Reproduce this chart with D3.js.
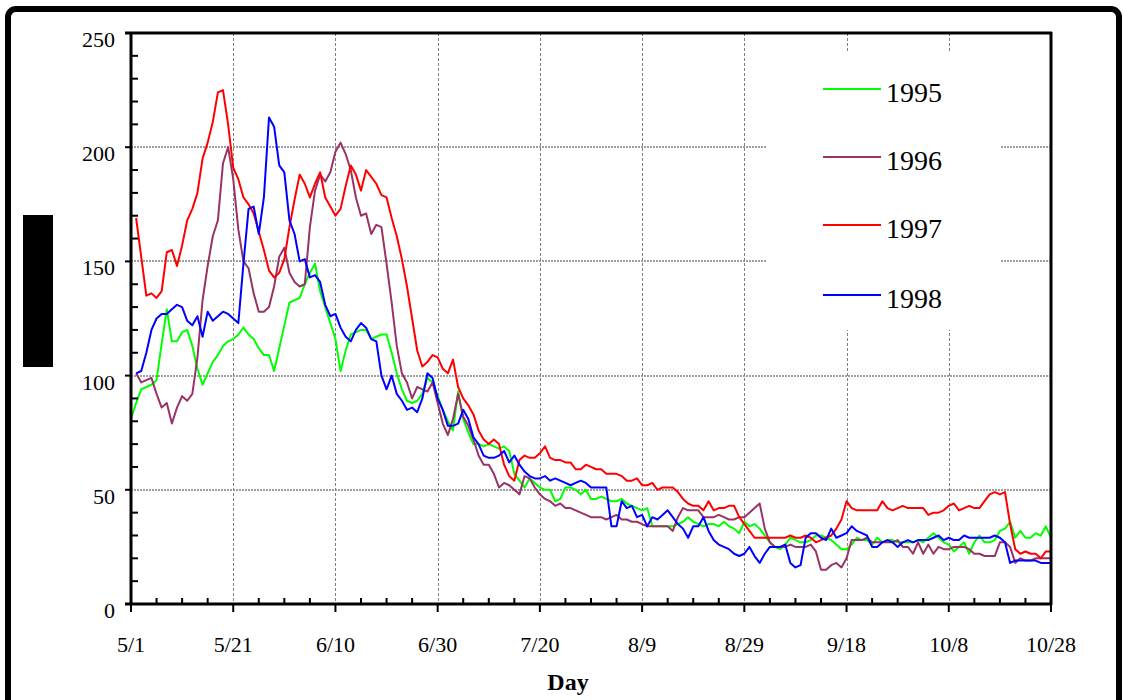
<!DOCTYPE html>
<html><head><meta charset="utf-8">
<script src="https://cdn.jsdelivr.net/npm/d3@7"></script>
<style>html,body{margin:0;padding:0;background:#fff;}svg{display:block;}</style>
</head><body>
<svg id="c" width="1124" height="700"></svg>
<script>
const xTickLabels = ["5/1","5/21","6/10","6/30","7/20","8/9","8/29","9/18","10/8","10/28"];
const yTicks = [0,50,100,150,200,250];
const seriesNames = ["1995","1996","1997","1998"];
const seriesColors = ["#00ff00","#993366","#ff0000","#0000ff"];
const v1995 = [81,88,94,95,96,98,114,129,115,115,119,120,113,103,96,101,106,109,113,115,116,118,121,118,116,112,109,109,102,
112,122,132,133,134,140,145,149,137,130,123,116,102,111,118,119,120,120,116,117,118,118,110,101,94,89,88,89,92,99,97,91,
85,80,76,93,81,75,70,70,69,70,69,68,69,67,57,54,51,55,53,51,50,50,45,46,51,51,50,48,50,
46,46,47,46,45,45,46,44,43,42,41,42,34,34,34,34,34,35,36,38,36,35,34,35,35,34,36,34,33,31,
36,34,35,33,30,27,25,24,26,29,28,27,27,28,30,30,29,28,26,24,24,26,29,28,28,26,29,27,28,28,27,
27,27,27,28,27,29,31,29,27,26,23,25,27,22,27,30,27,27,28,32,33,36,29,32,29,29,31,30,34,29];
const v1996 = [null,101,97,98,99,92,86,88,79,86,91,89,92,108,133,148,161,168,193,200,186,164,150,147,136,128,128,130,139,152,156,
145,141,139,140,165,181,188,185,189,198,202,197,190,178,170,171,162,166,165,149,132,113,101,97,90,95,94,93,97,
88,79,74,81,92,82,78,72,65,61,61,57,51,53,52,50,48,56,55,51,48,46,45,43,44,42,42,41,40,39,
38,38,38,37,38,39,37,37,36,36,35,34,34,34,34,34,32,38,42,41,41,41,38,38,38,39,38,37,37,38,
38,40,42,44,33,27,25,25,25,26,25,25,25,26,23,15,15,17,18,16,20,28,28,28,29,27,27,27,27,27,28,
25,25,22,27,22,26,22,25,24,24,25,25,25,24,22,22,21,21,21,27,27,25,18,20,19,19,20,20,20,20];
const v1997 = [null,169,152,135,136,134,137,154,155,148,157,168,173,180,195,202,211,224,225,210,191,186,178,175,171,163,155,146,143,145,151,
165,177,188,184,178,184,189,178,174,170,173,183,192,188,181,190,187,184,179,178,169,161,151,139,125,111,104,106,109,108,
103,101,107,95,90,87,83,76,72,70,72,70,61,56,54,63,65,64,64,66,69,64,63,63,62,62,59,59,61,
60,59,59,57,57,57,56,54,54,55,52,52,53,50,51,51,51,49,46,44,43,43,41,45,41,42,42,43,43,38,
35,32,29,29,29,29,29,29,29,30,29,29,30,29,27,28,29,30,33,37,45,42,41,41,41,41,41,45,42,41,42,
43,42,42,42,42,39,40,40,41,43,44,41,42,43,42,42,45,48,49,48,49,35,24,22,23,22,22,20,23,23];
const v1998 = [null,101,102,110,120,125,127,127,129,131,130,124,122,126,117,128,124,126,128,127,125,123,149,173,174,162,178,213,209,192,189,
168,162,150,151,143,144,141,131,126,127,121,117,115,120,123,121,116,115,100,94,100,92,89,85,86,84,90,101,99,90,
85,78,78,79,85,81,73,70,65,64,64,65,67,62,65,61,58,56,55,55,56,54,55,54,53,52,53,54,53,
51,51,51,51,34,34,45,42,43,38,39,34,38,37,39,41,38,35,33,29,34,34,38,32,28,26,25,24,22,21,
22,25,21,18,22,25,25,25,26,18,16,17,29,31,31,29,28,33,29,30,31,34,32,31,30,25,25,27,28,27,25,
27,28,27,28,28,28,29,30,28,29,28,28,30,29,29,29,29,29,30,29,27,18,19,19,19,19,19,18,18,18];
const seriesValues = [v1995, v1996, v1997, v1998];

const svg = d3.select("#c");
const font = "'Liberation Serif','Times New Roman',serif";
const L = 131, R = 1051, T = 33, B = 604;
const x = d3.scaleLinear().domain([0,180]).range([L,R]);
const y = d3.scaleLinear().domain([0,250]).range([B,T]);

// outer frame
svg.append("rect").attr("x",8).attr("y",9).attr("width",1111).attr("height",720)
  .attr("rx",8).attr("fill","none").attr("stroke","#000").attr("stroke-width",6);

// redaction block
svg.append("rect").attr("x",23).attr("y",215).attr("width",30).attr("height",152).attr("fill","#000");

// gridlines
const grid = svg.append("g").attr("stroke","#808080").attr("fill","none");
[50,100,150,200].forEach(v=>grid.append("line").attr("x1",L).attr("x2",R)
  .attr("y1",Math.round(y(v))).attr("y2",Math.round(y(v)))
  .attr("stroke-width",1.5).attr("stroke-dasharray","2,1"));
d3.range(20,180,20).forEach(d=>grid.append("line").attr("y1",T).attr("y2",B)
  .attr("x1",Math.round(x(d))+0.5).attr("x2",Math.round(x(d))+0.5)
  .attr("stroke-width",1).attr("stroke-dasharray","3,2"));

// legend white box
svg.append("rect").attr("x",766).attr("y",53).attr("width",234).attr("height",277).attr("fill","#fff");

// lines
const line = d3.line().defined(d=>d!=null).x((d,i)=>x(i)).y(d=>y(d));
seriesValues.forEach((vals,k)=>{
  svg.append("path").datum(vals).attr("d",line).attr("fill","none")
    .attr("stroke",seriesColors[k]).attr("stroke-width",2).attr("stroke-linejoin","round");
});

// axes
const ax = svg.append("g").attr("stroke","#000");
ax.append("line").attr("x1",L).attr("x2",L).attr("y1",T-1).attr("y2",B+1).attr("stroke-width",3);
ax.append("line").attr("x1",R).attr("x2",R).attr("y1",T-1).attr("y2",B+1).attr("stroke-width",3);
ax.append("line").attr("x1",L-6).attr("x2",R+1).attr("y1",T).attr("y2",T).attr("stroke-width",3);
ax.append("line").attr("x1",L-6).attr("x2",R+1).attr("y1",B).attr("y2",B).attr("stroke-width",3);
// y ticks
d3.range(0,251,10).forEach(v=>{
  if (v%50===0) ax.append("line").attr("x1",L-6).attr("x2",L).attr("y1",y(v)).attr("y2",y(v)).attr("stroke-width",2);
  else ax.append("line").attr("x1",L).attr("x2",L+7).attr("y1",y(v)).attr("y2",y(v)).attr("stroke-width",2);
});
// x ticks
d3.range(0,181,5).forEach(d=>{
  if (d%20===0) ax.append("line").attr("x1",x(d)).attr("x2",x(d)).attr("y1",B).attr("y2",B+8).attr("stroke-width",2);
  else ax.append("line").attr("x1",x(d)).attr("x2",x(d)).attr("y1",B).attr("y2",B-6).attr("stroke-width",2);
});

// tick labels
svg.append("g").selectAll("text").data(yTicks).join("text")
  .attr("x",115).attr("y",d=>y(d)+14).attr("text-anchor","end")
  .attr("font-family",font).attr("font-size",22).text(d=>d);
svg.append("g").selectAll("text").data(xTickLabels).join("text")
  .attr("x",(d,i)=>x(i*20)).attr("y",652).attr("text-anchor","middle")
  .attr("font-family",font).attr("font-size",22).text(d=>d);
svg.append("text").attr("x",568).attr("y",690).attr("text-anchor","middle")
  .attr("font-family",font).attr("font-size",24).attr("font-weight","bold").text("Day");

// legend
const ly = [89,157,225,295];
seriesNames.forEach((n,k)=>{
  svg.append("line").attr("x1",823).attr("x2",881).attr("y1",ly[k]).attr("y2",ly[k])
    .attr("stroke",seriesColors[k]).attr("stroke-width",2);
  svg.append("text").attr("x",886).attr("y",ly[k]+13).attr("font-family",font)
    .attr("font-size",28).text(n);
});
</script>
</body></html>
